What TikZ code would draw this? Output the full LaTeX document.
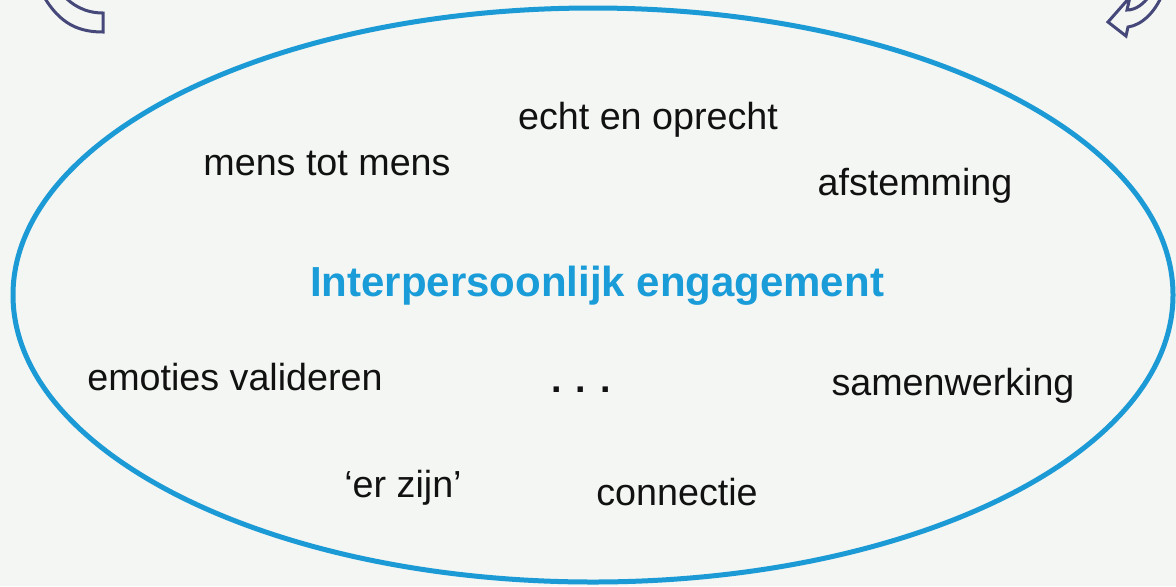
\documentclass[tikz,border=0pt]{standalone}
\usepackage{fontspec}
\setmainfont{Liberation Sans}
\definecolor{bgc}{RGB}{243,246,243}
\definecolor{ellc}{RGB}{27,154,214}
\definecolor{titc}{RGB}{26,156,216}
\definecolor{arrc}{RGB}{70,72,122}
\definecolor{txtc}{RGB}{17,17,17}
\begin{document}
\begin{tikzpicture}[x=0.02cm,y=-0.02cm,
  word/.style={anchor=base,inner sep=0pt,text=txtc,font=\fontsize{21.45pt}{26pt}\selectfont},
  titlelbl/.style={anchor=base,inner sep=0pt,text=titc,font=\fontsize{23.9pt}{28pt}\selectfont\bfseries},
  ring/.style={draw=ellc,line width=0.1cm},
  cornerarrow/.style={draw=arrc,line width=0.06cm,line join=miter}]
\useasboundingbox (0,0) rectangle (1176,586);
\fill[bgc] (0,0) rectangle (1176,586);
\begin{scope}
\clip (0,0) rectangle (1176,586);
\draw[ring] (593,295) ellipse [x radius=580, y radius=287];
\draw[cornerarrow] (43,-5) .. controls (60,25) and (80,32) .. (103,32) -- (103,13) .. controls (85,13) and (72,5) .. (63,-5);
\draw[cornerarrow] (1150,-5) .. controls (1143,5) and (1135,10) .. (1127,10) -- (1130,-3) -- (1108,22) -- (1126,36) -- (1128,27) .. controls (1142,25) and (1155,12) .. (1162,-5);
\end{scope}
\node[titlelbl] (title) at (597,296) {Interpersoonlijk engagement};
\node[word] (mens) at (327,175) {mens tot mens};
\node[word] (echt) at (648,129) {echt en oprecht};
\node[word] (afst) at (915,195) {afstemming};
\node[word] (emot) at (235,390) {emoties valideren};
\node[word] (dots) at (581,392) {\bfseries . . .};
\node[word] (samen) at (953,395) {samenwerking};
\node[word] (erzijn) at (403,497) {‘er zijn’};
\node[word] (conn) at (677,505) {connectie};
\end{tikzpicture}
\end{document}
